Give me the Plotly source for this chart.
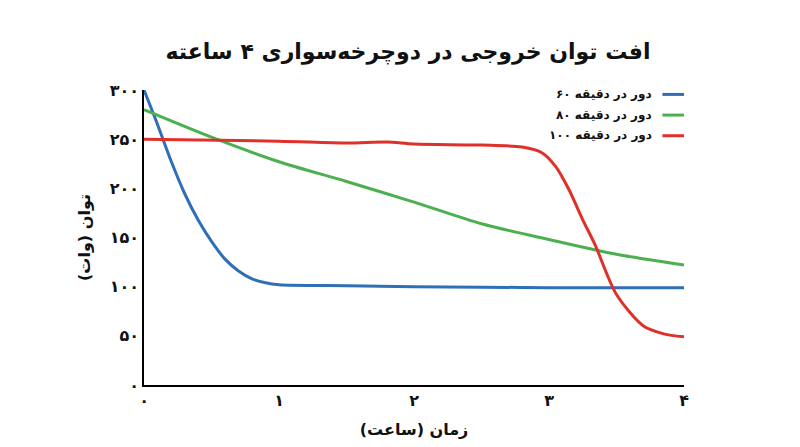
import plotly.graph_objects as go

t60 = [0, 0.1, 0.2, 0.3, 0.4, 0.5, 0.6, 0.7, 0.8, 0.9, 1.0, 1.5, 2.0, 2.5, 3.0, 4.0]
p60 = [300, 265, 228, 195, 168, 146, 128, 116, 108, 104, 102, 101, 100, 99.5, 99, 99]
t80 = [0, 0.5, 1.0, 1.5, 2.0, 2.5, 3.0, 3.5, 4.0]
p80 = [280, 252, 227, 207, 186, 164, 148, 133, 122]
t100 = [0, 1.0, 1.5, 1.8, 2.0, 2.5, 2.8, 2.95, 3.05, 3.15, 3.25, 3.34, 3.5, 3.7, 3.85, 4.0]
p100 = [250, 248, 246, 247, 245, 244, 242, 236, 222, 198, 168, 143, 92, 60, 52, 49]

names = ["دور در دقیقه ۶۰", "دور در دقیقه ۸۰", "دور در دقیقه ۱۰۰"]
colors = ["#2f6fb5", "#4caf50", "#e0302a"]
fa = str.maketrans("0123456789", "۰۱۲۳۴۵۶۷۸۹")
xt = [0, 1, 2, 3, 4]
yt = [0, 50, 100, 150, 200, 250, 300]

fig = go.Figure()
for t, p, n, c in zip([t60, t80, t100], [p60, p80, p100], names, colors):
    fig.add_trace(go.Scatter(x=t, y=p, mode="lines", name=n, showlegend=False,
                             line=dict(color=c, width=3, shape="spline", smoothing=0.8)))

# legend drawn by hand so the line sits right of the RTL text
for i, (n, c) in enumerate(zip(names, colors)):
    yy = 0.985 - i * 0.07
    fig.add_shape(type="line", xref="paper", yref="paper", x0=0.96, x1=1.0, y0=yy, y1=yy,
                  line=dict(color=c, width=3))
    fig.add_annotation(xref="paper", yref="paper", x=0.945, y=yy, text="<b>" + n + "</b>",
                       showarrow=False, xanchor="right", yanchor="middle",
                       font=dict(size=12, color="#111"))

fig.update_layout(
    width=800, height=447, plot_bgcolor="white", paper_bgcolor="white",
    font=dict(family="DejaVu Sans", color="#111"),
    title=dict(text="<b>افت توان خروجی در دوچرخه‌سواری ۴ ساعته</b>", x=0.5, y=0.92,
               font=dict(size=22)),
    margin=dict(l=136, r=124, t=82, b=70),
    xaxis=dict(range=[0, 4], tickvals=xt, ticktext=["<b>" + str(v).translate(fa) + "</b>" for v in xt],
               showgrid=False, zeroline=False, showline=True, linecolor="black", linewidth=1.5,
               tickfont=dict(size=16), title=dict(text="<b>زمان (ساعت)</b>", font=dict(size=16))),
    yaxis=dict(range=[0, 300], tickvals=yt, ticktext=["<b>" + str(v).translate(fa) + "</b>" for v in yt],
               showgrid=False, zeroline=False, showline=True, linecolor="black", linewidth=1.5,
               tickfont=dict(size=16), title=dict(text="<b>توان (وات)</b>", font=dict(size=16))),
)
fig.write_html("out.html")
